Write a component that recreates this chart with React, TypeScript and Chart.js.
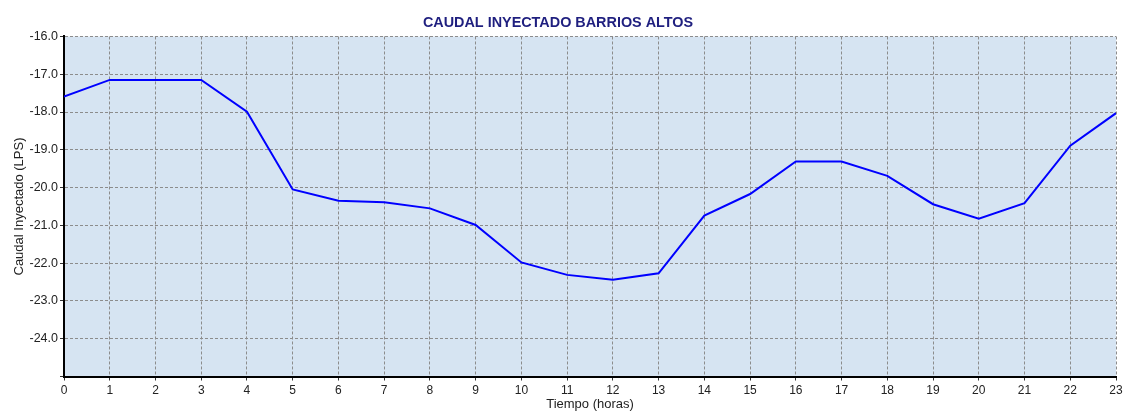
import React, { useEffect, useRef } from "react";
import { Chart, registerables } from "chart.js";

Chart.register(...registerables);

const hours: number[] = [0, 1, 2, 3, 4, 5, 6, 7, 8, 9, 10, 11, 12, 13, 14, 15, 16, 17, 18, 19, 20, 21, 22, 23];
const caudal: number[] = [
  -17.59, -17.15, -17.15, -17.15, -17.99, -20.05, -20.35, -20.39, -20.55, -20.99, -21.98, -22.31,
  -22.44, -22.27, -20.74, -20.17, -19.31, -19.31, -19.69, -20.44, -20.82, -20.41, -18.89, -18.03,
];
const titleText = "CAUDAL INYECTADO BARRIOS ALTOS";
const xTitle = "Tiempo (horas)";
const yTitle = "Caudal Inyectado (LPS)";

const FONT = "'Liberation Sans', Arial, sans-serif";

const bgPlugin = {
  id: "plotBg",
  beforeDraw(chart: any) {
    const { ctx, chartArea } = chart;
    if (!chartArea) return;
    ctx.save();
    ctx.fillStyle = "#d6e4f2";
    ctx.fillRect(chartArea.left, chartArea.top, chartArea.right - chartArea.left, chartArea.bottom - chartArea.top);
    ctx.restore();
  },
};

export default function App() {
  const ref = useRef<HTMLCanvasElement>(null);
  useEffect(() => {
    if (!ref.current) return;
    const chart = new Chart(ref.current, {
      type: "line",
      data: {
        datasets: [
          {
            data: hours.map((h, i) => ({ x: h, y: caudal[i] })),
            borderColor: "#0000ff",
            borderWidth: 2,
            pointRadius: 0,
            tension: 0,
            fill: false,
          },
        ],
      },
      options: {
        animation: false,
        responsive: false,
        maintainAspectRatio: false,
        layout: { padding: { left: 0, right: 8, top: 0, bottom: 0 } },
        plugins: {
          legend: { display: false },
          tooltip: { enabled: false },
          title: {
            display: true,
            text: titleText,
            color: "#1f1f7f",
            font: { family: FONT, size: 14.4, weight: "bold", lineHeight: 1.2 },
            padding: { top: 14, bottom: 5.2 },
          },
        },
        scales: {
          x: {
            type: "linear",
            min: 0,
            max: 23,
            afterFit(scale: any) {
              scale.height = 35.5;
              scale.paddingLeft = 0;
              scale.paddingRight = 0;
            },
            ticks: {
              stepSize: 1,
              autoSkip: false,
              maxRotation: 0,
              color: "#222",
              padding: 3,
              font: { family: FONT, size: 12 },
            },
            grid: {
              color: "#8c8c8c",
              lineWidth: 1,
              tickLength: 4,
              tickColor: "#333",
              tickBorderDash: [],
            },
            border: { display: true, color: "#000", width: 2, dash: [3, 2] },
            title: {
              display: true,
              text: xTitle,
              color: "#222",
              padding: { top: 0, bottom: 0 },
              font: { family: FONT, size: 13, lineHeight: 1.2 },
            },
          },
          y: {
            min: -25,
            max: -16,
            afterFit(scale: any) {
              scale.width = 64;
            },
            ticks: {
              stepSize: 1,
              color: "#222",
              padding: 2,
              font: { family: FONT, size: 12.5 },
              callback: (v: any) => (Number(v) === -25 ? "" : Number(v).toFixed(1)),
            },
            grid: {
              color: "#8c8c8c",
              lineWidth: 1,
              tickLength: 4,
              tickColor: "#333",
              tickBorderDash: [],
            },
            border: { display: true, color: "#000", width: 2, dash: [3, 2] },
            title: {
              display: true,
              text: yTitle,
              color: "#222",
              padding: { top: 12, bottom: 0 },
              font: { family: FONT, size: 13, lineHeight: 1.2 },
            },
          },
        },
      },
      plugins: [bgPlugin],
    } as any);
    return () => chart.destroy();
  }, []);

  return (
    <div style={{ position: "absolute", left: 0, top: 0, width: 1124, height: 412, background: "#fff" }}>
      <canvas ref={ref} width={1124} height={412} style={{ display: "block", width: 1124, height: 412 }} />
    </div>
  );
}
